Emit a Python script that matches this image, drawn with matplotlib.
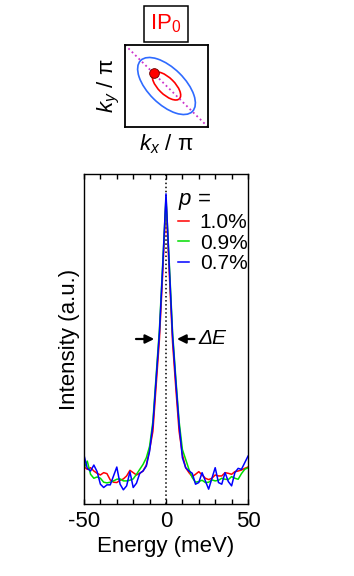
import numpy as np
import matplotlib
matplotlib.use('Agg')
import matplotlib.pyplot as plt
from matplotlib.patches import Ellipse

plt.rcParams['font.family'] = ['Liberation Sans', 'DejaVu Sans']
plt.rcParams['mathtext.fontset'] = 'custom'
plt.rcParams['mathtext.rm'] = 'Liberation Sans'
plt.rcParams['mathtext.it'] = 'Liberation Sans:italic'
plt.rcParams['axes.unicode_minus'] = False

# energy grid (meV) and spectra
energy = np.arange(-50, 51, 2)
int_p10 = [0.113, 0.105, 0.110, 0.100, 0.093, 0.088, 0.095, 0.092, 0.073, 0.066,
           0.065, 0.072, 0.076, 0.085, 0.102, 0.095, 0.088, 0.093, 0.100, 0.118,
           0.165, 0.22, 0.36, 0.50, 0.70, 0.92, 0.70, 0.49, 0.35, 0.22, 0.150,
           0.110, 0.095, 0.083, 0.090, 0.098, 0.088, 0.078, 0.074, 0.078, 0.088,
           0.085, 0.085, 0.095, 0.093, 0.090, 0.098, 0.100, 0.103, 0.108, 0.112]
int_p09 = [0.108, 0.130, 0.090, 0.078, 0.082, 0.078, 0.066, 0.064, 0.066, 0.070,
           0.075, 0.076, 0.070, 0.070, 0.072, 0.076, 0.090, 0.105, 0.120, 0.140,
           0.175, 0.25, 0.39, 0.53, 0.73, 0.93, 0.73, 0.52, 0.38, 0.25, 0.165,
           0.135, 0.105, 0.080, 0.066, 0.068, 0.072, 0.065, 0.066, 0.073, 0.070,
           0.072, 0.078, 0.075, 0.074, 0.083, 0.078, 0.075, 0.092, 0.105, 0.110]
int_p07 = [0.148, 0.108, 0.100, 0.118, 0.098, 0.060, 0.050, 0.058, 0.058, 0.085,
           0.112, 0.060, 0.043, 0.055, 0.098, 0.050, 0.063, 0.093, 0.100, 0.115,
           0.160, 0.24, 0.38, 0.52, 0.72, 0.94, 0.72, 0.51, 0.37, 0.24, 0.140,
           0.110, 0.100, 0.093, 0.060, 0.065, 0.095, 0.070, 0.045, 0.078, 0.110,
           0.065, 0.060, 0.095, 0.068, 0.055, 0.095, 0.108, 0.105, 0.125, 0.145]
series = [int_p10, int_p09, int_p07]
labels = ['1.0%', '0.9%', '0.7%']
colors = ['#ff0000', '#00dd00', '#0000ff']

# Fermi surface sketch (semi-axes along the diagonal, in units of pi)
outer_fs = (0.44, 0.22)
inner_fs = (0.22, 0.10)

W, H = 354, 576
fig = plt.figure(figsize=(W / 100, H / 100), dpi=100)

# main spectrum panel
ax = fig.add_axes([84 / W, 72 / H, 164 / W, 330 / H])
for y, lab, c in zip(series, labels, colors):
    ax.plot(energy, y, color=c, lw=1.1, label=lab)
ax.axvline(0, color='black', ls=':', lw=1.1, zorder=0)
ax.set_xlim(-50, 50)
ax.set_ylim(0, 1)
ax.set_xticks([-50, 0, 50])
ax.set_xticks(np.arange(-40, 50, 10), minor=True)
ax.tick_params(axis='x', which='both', direction='in', top=True, length=3.5,
               width=1, labelsize=16, pad=5)
ax.tick_params(axis='y', which='both', left=False, labelleft=False)
for s in ax.spines.values():
    s.set_linewidth(1)
ax.set_xlabel('Energy (meV)', fontsize=16, labelpad=3)
ax.set_ylabel('Intensity (a.u.)', fontsize=16, labelpad=3)

leg = ax.legend(title=r'$p$ =', loc='upper left', bbox_to_anchor=(0.572, 0.955),
                frameon=False, fontsize=15, title_fontsize=16, handlelength=0.55,
                handletextpad=0.5, labelspacing=0.07, alignment='left',
                borderaxespad=0, borderpad=0)

# FWHM arrows
ax.annotate('', xy=(-5.5, 0.5), xytext=(-20, 0.5),
            arrowprops=dict(arrowstyle='-|>', color='black', lw=1.6, mutation_scale=13))
ax.annotate('', xy=(5, 0.5), xytext=(19, 0.5),
            arrowprops=dict(arrowstyle='-|>', color='black', lw=1.6, mutation_scale=13))
ax.text(20, 0.5, 'ΔE', fontsize=15, style='italic', ha='left', va='center')

# inset with Fermi surface
ins = fig.add_axes([125 / W, 1 - 127 / H, 83 / W, 82 / H])
ins.set_xlim(0, 1)
ins.set_ylim(0, 1)
ins.set_xticks([])
ins.set_yticks([])
for s in ins.spines.values():
    s.set_linewidth(1.3)
ins.plot([0, 1], [1, 0], color='#cc33cc', ls=':', lw=1.3)
ins.add_patch(Ellipse((0.5, 0.5), 2 * outer_fs[0], 2 * outer_fs[1], angle=-45,
                      fill=False, ec='#2f6bff', lw=1.2))
ins.add_patch(Ellipse((0.5, 0.5), 2 * inner_fs[0], 2 * inner_fs[1], angle=-45,
                      fill=False, ec='#ff0000', lw=1.2))
tip = inner_fs[0] / np.sqrt(2)
ins.plot([0.5 - tip], [0.5 + tip], 'o', color='#ff0000', mec='#660000', mew=0.6, ms=7)
ins.set_xlabel(r'$k_x$ / π', fontsize=16, labelpad=4)
ins.set_ylabel(r'$k_y$ / π', fontsize=16, labelpad=2)

fig.text(166 / W, 1 - 24 / H, r'IP$_0$', color='#ff0000', fontsize=16,
         ha='center', va='center',
         bbox=dict(boxstyle='square,pad=0.3', fc='white', ec='black', lw=1.1))

fig.savefig('out.png', dpi=100)
